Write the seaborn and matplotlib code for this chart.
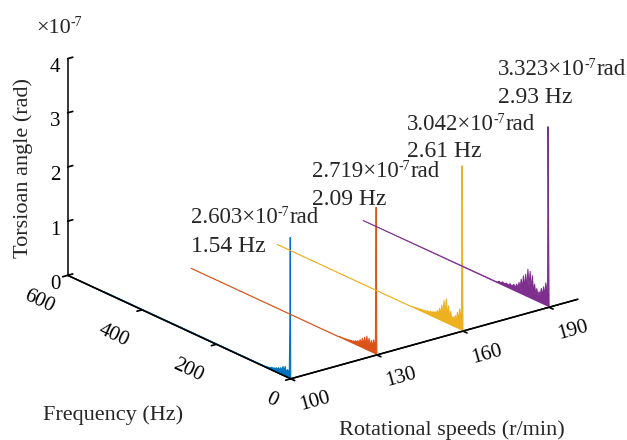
import numpy as np
import matplotlib
matplotlib.use("Agg")
import matplotlib.pyplot as plt
import seaborn as sns
from mpl_toolkits.mplot3d import proj3d
from mpl_toolkits.mplot3d.art3d import Poly3DCollection

# ---------------- data (torsion angle in units of 1e-7 rad) ----------------
speeds = [100, 130, 160, 190]                 # r/min
peak_freq = [1.54, 2.09, 2.61, 2.93]          # Hz
peak_amp = [2.603, 2.719, 3.042, 3.323]       # x1e-7 rad
second_freq = [2.6, 3.0, 3.3, 3.6]
second_amp = [0.9, 1.7, 1.6, 1.5]
noise_freq = [4, 6, 9, 12, 15, 18, 21, 24, 27, 30, 33, 36, 39, 42, 45, 48, 51, 54, 57, 60,
              63, 66, 69, 72, 75, 78, 81, 84, 87, 90, 95, 100, 105, 110, 115, 120, 125, 130, 135, 140]
noise_100 = [0.16, 0.10, 0.14, 0.08, 0.18, 0.09, 0.16, 0.08, 0.12, 0.07, 0.10, 0.06, 0.08, 0.05,
             0.06, 0.04, 0.05, 0.03, 0.03, 0.02, 0.02, 0.02, 0.01, 0.01, 0.01, 0.01, 0.01, 0.01,
             0.01, 0.01, 0.01, 0.01, 0.01, 0.01, 0.01, 0.01, 0.01, 0.01, 0.01, 0.01]
noise_130 = [0.28, 0.14, 0.25, 0.12, 0.22, 0.10, 0.24, 0.11, 0.26, 0.10, 0.22, 0.09, 0.18, 0.08,
             0.14, 0.07, 0.10, 0.06, 0.08, 0.05, 0.06, 0.04, 0.05, 0.04, 0.04, 0.03, 0.03, 0.03,
             0.02, 0.02, 0.02, 0.02, 0.01, 0.01, 0.01, 0.01, 0.01, 0.01, 0.01, 0.01]
noise_160 = [0.44, 0.20, 0.38, 0.16, 0.30, 0.13, 0.22, 0.12, 0.18, 0.11, 0.26, 0.13, 0.34, 0.15,
             0.45, 0.17, 0.40, 0.14, 0.30, 0.12, 0.22, 0.10, 0.16, 0.09, 0.12, 0.08, 0.10, 0.07,
             0.09, 0.06, 0.07, 0.05, 0.05, 0.04, 0.04, 0.03, 0.03, 0.02, 0.02, 0.01]
noise_190 = [0.50, 0.22, 0.42, 0.18, 0.33, 0.15, 0.28, 0.14, 0.20, 0.12, 0.24, 0.13, 0.30, 0.16,
             0.44, 0.18, 0.50, 0.20, 0.52, 0.17, 0.41, 0.15, 0.36, 0.12, 0.28, 0.10, 0.20, 0.09,
             0.15, 0.08, 0.12, 0.07, 0.10, 0.06, 0.08, 0.05, 0.07, 0.04, 0.05, 0.02]
noise_amp = [noise_100, noise_130, noise_160, noise_190]
end_freq = 500
end_amp = 0.01

annot_amp = ["2.603", "2.719", "3.042", "3.323"]
annot_hz = ["1.54 Hz", "2.09 Hz", "2.61 Hz", "2.93 Hz"]

speed_ticks = [100, 130, 160, 190]
freq_ticks = [0, 200, 400, 600]
z_ticks = [0, 1, 2, 3, 4]

# ---------------- style ----------------
sns.set_theme(style="white")
plt.rcParams["font.family"] = ["Liberation Serif", "DejaVu Serif"]
colors = sns.color_palette(["#0072BD", "#D95319", "#EDB120", "#7E2F8E"])

W, H = 627, 440
fig = plt.figure(figsize=(W / 100, H / 100), dpi=100)
fig.patch.set_facecolor("white")
ax = fig.add_axes([0, 0, 1, 1], projection="3d")
ax.computed_zorder = False
ax.set_proj_type("ortho")
ax.view_init(elev=21, azim=-127.7)
aspect = (361, 363, 231)
ax.set_box_aspect(aspect, zoom=1.0)
ax.set_xlim(100, 200)
ax.set_ylim(0, 600)
ax.set_zlim(0, 4)
ax.set_facecolor("white")

for axis in (ax.xaxis, ax.yaxis, ax.zaxis):
    axis.set_pane_color((1, 1, 1, 0))
    axis.pane.set_edgecolor((1, 1, 1, 0))
    axis.line.set_color("black")
    axis.line.set_linewidth(1.1)
    axis._axinfo["tick"]["inward_factor"] = 0.22
    axis._axinfo["tick"]["outward_factor"] = 0.0
ax.zaxis._axinfo["tick"]["inward_factor"] = 0.0
ax.zaxis._axinfo["tick"]["outward_factor"] = 0.22
ax.grid(False)

ax.set_xticks(speed_ticks)
ax.set_yticks(freq_ticks)
ax.set_zticks(z_ticks)
ax.tick_params(axis="both", colors="black", labelsize=15, width=1.0)
ax.tick_params(axis="x", labelrotation=15.5, pad=-3)
ax.tick_params(axis="y", labelrotation=-25, pad=-2)
ax.tick_params(axis="z", pad=-4)
ax.set_xlabel("")
ax.set_ylabel("")
ax.set_zlabel("")

# ---------------- spectra ----------------
for i, s in enumerate(speeds):
    f = [0, peak_freq[i], second_freq[i]] + noise_freq + [end_freq]
    a = [0, peak_amp[i], second_amp[i]] + noise_amp[i] + [end_amp]
    xs = [s] * len(f)
    verts = list(zip(xs, f, a)) + [(s, end_freq, 0), (s, 0, 0)]
    poly = Poly3DCollection([verts], facecolor=colors[i], edgecolor="none", zorder=2 + i)
    poly.set_clip_on(False)
    ax.add_collection3d(poly)
    ln, = ax.plot(xs, f, a, color=colors[i], lw=0.75, zorder=2 + i)
    ln.set_clip_on(False)

# axis edges re-drawn above the data (as in the reference, axes lie on top)
x0_, x1_ = ax.get_xlim()
y0_, y1_ = ax.get_ylim()
z0_, z1_ = ax.get_zlim()
for xx, yy, zz in [([x0_, x1_], [y0_, y0_], [z0_, z0_]),
                   ([x0_, x0_], [y0_, y1_], [z0_, z0_])]:
    e, = ax.plot(xx, yy, zz, color="black", lw=1.1, zorder=20)
    e.set_clip_on(False)

# ---------------- calibrate layout to reference pixels ----------------
anchors = [(100, 0, 0), (200, 0, 0), (100, 600, 0), (100, 600, 4)]
targets = np.array([(290, 378), (578, 300), (68, 276), (68, 58)], dtype=float)
targets[:, 1] = H - targets[:, 1]


def project():
    M = ax.get_proj()
    pts = []
    for (x, y, z) in anchors:
        px_, py_, _ = proj3d.proj_transform(x, y, z, M)
        pts.append(ax.transData.transform((px_, py_)))
    return np.array(pts)


fig.canvas.draw()
P = project()
Pc = P - P.mean(axis=0)
Tc = targets - targets.mean(axis=0)
k = (Pc * Tc).sum() / (Pc * Pc).sum()
ax.set_box_aspect(aspect, zoom=k)
fig.canvas.draw()
P = project()
t = (targets - P).mean(axis=0)
ax.set_position([t[0] / W, t[1] / H, 1, 1])
fig.canvas.draw()

for lab in ax.get_xticklabels():
    lab.set_ha("left")
for lab in ax.get_yticklabels():
    lab.set_ha("right")

# ---------------- texts ----------------
renderer = fig.canvas.get_renderer()


def px(x, y):
    return x / W, 1 - y / H


def sup_text(x, y, base, sup, tail, fs, sfs, rise):
    t1 = fig.text(*px(x, y), base, fontsize=fs, ha="left", va="baseline")
    w1 = t1.get_window_extent(renderer).width
    t2 = fig.text(*px(x + w1, y - rise), sup, fontsize=sfs, ha="left", va="baseline")
    w2 = t2.get_window_extent(renderer).width
    if tail:
        fig.text(*px(x + w1 + w2, y), tail, fontsize=fs, ha="left", va="baseline")


ann_pos = [(191, 223, 252), (312, 177, 205), (407, 130, 157), (498, 75, 103)]
for i, (x0, y1, y2) in enumerate(ann_pos):
    sup_text(x0, y1, annot_amp[i] + "×10", "-7", "rad", 16.5, 10, 7)
    fig.text(*px(x0, y2), annot_hz[i], fontsize=17, ha="left", va="baseline")

sup_text(36, 33, "×10", "-7", "", 16, 10, 7)
fig.text(*px(23, 168), "Torsioan angle (rad)", fontsize=16, rotation=90, ha="center", va="center")
fig.text(*px(113, 415), "Frequency (Hz)", fontsize=16, ha="center", va="center")
fig.text(*px(452, 430), "Rotational speeds (r/min)", fontsize=16, ha="center", va="center")

fig.savefig("out.png", dpi=100, facecolor="white")
